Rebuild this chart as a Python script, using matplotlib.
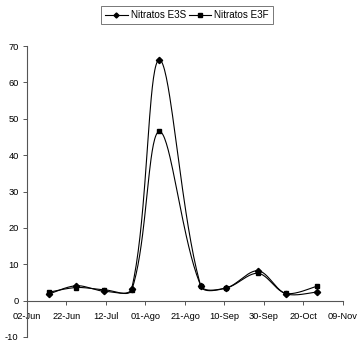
import numpy as np
import matplotlib
matplotlib.use("Agg")
import matplotlib.pyplot as plt

plt.rcParams['font.family'] = ['Liberation Sans', 'DejaVu Sans']
plt.rcParams['axes.unicode_minus'] = False

# days since 02-Jun
days = [11, 25, 39, 53, 67, 88, 101, 117, 131, 147]
e3s = [1.8, 4.1, 2.6, 3.3, 66.2, 4.0, 3.5, 8.2, 1.9, 2.4]
e3f = [2.3, 3.6, 3.0, 2.9, 46.5, 4.1, 3.5, 7.5, 2.0, 4.0]
tick_days = [0, 20, 40, 60, 80, 100, 120, 140, 160]
tick_labels = ["02-Jun", "22-Jun", "12-Jul", "01-Ago", "21-Ago", "10-Sep", "30-Sep", "20-Oct", "09-Nov"]
yticks = [-10, 0, 10, 20, 30, 40, 50, 60, 70]

XS, YS = 1.975, 3.64  # px per unit, for distance weighting


def smooth(x, y, n=40):
    # Excel-like smoothed line: Bezier with distance-weighted tangents
    P = np.column_stack([np.asarray(x, float) * XS, np.asarray(y, float) * YS])
    m = len(P)
    xs, ys = [], []
    t = np.linspace(0, 1, n)
    for i in range(m - 1):
        p1, p2 = P[i], P[i + 1]
        p0 = P[i - 1] if i > 0 else P[i]
        p3 = P[i + 2] if i + 2 < m else P[i + 1]
        d01 = np.linalg.norm(p1 - p0)
        d12 = np.linalg.norm(p2 - p1)
        d23 = np.linalg.norm(p3 - p2)
        f1 = 2 * d12 / (d01 + d12) if d01 > 0 else 1.0
        f2 = 2 * d12 / (d12 + d23) if d23 > 0 else 1.0
        c1 = p1 + (p2 - p0) / 6 * f1
        c2 = p2 - (p3 - p1) / 6 * f2
        b = ((1 - t)**3)[:, None] * p1 + (3 * (1 - t)**2 * t)[:, None] * c1 \
            + (3 * (1 - t) * t**2)[:, None] * c2 + (t**3)[:, None] * p2
        xs.append(b[:, 0] / XS); ys.append(b[:, 1] / YS)
    return np.concatenate(xs), np.concatenate(ys)


fig = plt.figure(figsize=(3.61, 3.42), dpi=100)
ax = fig.add_axes([27 / 361, 1 - 337 / 342, (343 - 27) / 361, (337 - 46) / 342])

for vals, mk, ms, lab in [(e3s, 'D', 3.2, 'Nitratos E3S'), (e3f, 's', 3.0, 'Nitratos E3F')]:
    sx, sy = smooth(days, vals)
    ax.plot(sx, sy, color='black', lw=0.8)
    ax.plot(days, vals, ls='none', marker=mk, ms=ms, color='black')
    ax.plot([], [], color='black', lw=0.8, marker=mk, ms=ms, label=lab)

ax.set_xlim(0, 160)
ax.set_ylim(-10, 70)
ax.set_xticks(tick_days)
ax.set_xticklabels(tick_labels)
ax.set_yticks(yticks)
ax.spines['top'].set_visible(False)
ax.spines['right'].set_visible(False)
ax.spines['bottom'].set_position(('data', 0))
ax.spines['left'].set_color('#555555')
ax.spines['bottom'].set_color('#555555')
ax.spines['left'].set_linewidth(0.8)
ax.spines['bottom'].set_linewidth(0.8)
ax.tick_params(axis='both', labelsize=6.7, length=3, width=0.7, color='#555555', pad=3)
ax.tick_params(axis='x', pad=5)

leg = fig.legend(loc='center', bbox_to_anchor=(187 / 361, 1 - 15 / 342), ncol=2, fontsize=7.1,
                 frameon=True, fancybox=False, edgecolor='#555555', handlelength=2.3,
                 columnspacing=0.3, handletextpad=0.3, borderpad=0.4, markerscale=0.8)
leg.get_frame().set_linewidth(0.7)

fig.savefig('out.png', dpi=100)
